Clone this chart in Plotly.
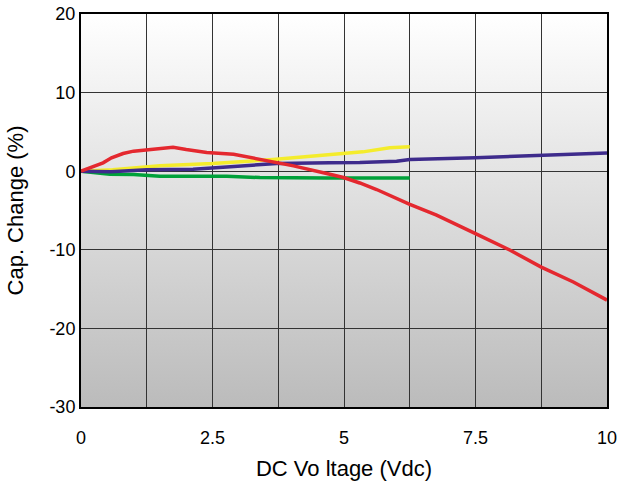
import base64
import plotly.graph_objects as go

# Cap. change vs DC voltage
red_x = [0, 0.23, 0.42, 0.58, 0.8, 1.0, 1.25, 1.5, 1.75, 2.0, 2.39, 2.9, 3.4, 4.04, 4.67,
         4.99, 5.3, 5.62, 6.24, 6.76, 7.5, 8.16, 8.75, 9.36, 10.0]
red_y = [0, 0.55, 1.06, 1.7, 2.25, 2.55, 2.7, 2.8, 3.05, 2.75, 2.38, 2.16, 1.49, 0.68, -0.3,
         -0.8, -1.5, -2.33, -4.2, -5.6, -7.94, -10.06, -12.2, -14.1, -16.4]

yellow_x = [0, 0.6, 1.5, 2.5, 3.65, 4.73, 5.36, 5.87, 6.25]
yellow_y = [0, 0.2, 0.68, 0.97, 1.49, 2.12, 2.46, 2.97, 3.1]

purple_x = [0, 0.57, 1.25, 2.13, 2.77, 3.72, 4.73, 5.3, 6.0, 6.25, 7.5, 8.75, 10.0]
purple_y = [0, -0.08, 0.2, 0.25, 0.55, 0.98, 1.06, 1.1, 1.27, 1.49, 1.7, 2.04, 2.33]

green_x = [0, 0.55, 1.0, 1.5, 2.77, 3.4, 4.67, 6.25]
green_y = [0, -0.38, -0.42, -0.64, -0.64, -0.81, -0.85, -0.85]

x_ticks = [0, 2.5, 5, 7.5, 10]
x_labels = ["0", "2.5", "5", "7.5", "10"]
y_ticks = [-30, -20, -10, 0, 10, 20]
y_labels = ["-30", "-20", "-10", "0", "10", "20"]

series = [
    (green_x, green_y, "#00A13A"),
    (yellow_x, yellow_y, "#F4EC2C"),
    (purple_x, purple_y, "#3E2B8C"),
    (red_x, red_y, "#E4282F"),
]

fig = go.Figure()
for xs, ys, color in series:
    fig.add_trace(go.Scatter(x=xs, y=ys, mode="lines", line=dict(color=color, width=3.5),
                             showlegend=False))

# grey-to-white background gradient behind the grid
svg = ('<svg xmlns="http://www.w3.org/2000/svg" width="10" height="100" preserveAspectRatio="none">'
       '<defs><linearGradient id="g" x1="0" y1="0" x2="0" y2="1">'
       '<stop offset="0" stop-color="#FFFFFF"/><stop offset="1" stop-color="#BBBBBB"/>'
       '</linearGradient></defs><rect width="10" height="100" fill="url(#g)"/></svg>')
src = "data:image/svg+xml;base64," + base64.b64encode(svg.encode()).decode()
fig.add_layout_image(dict(source=src, xref="paper", yref="paper", x=0, y=1, sizex=1, sizey=1,
                          xanchor="left", yanchor="top", sizing="stretch", layer="below"))

font = dict(family="Liberation Sans, Arial, sans-serif", size=18, color="black")
fig.update_layout(
    width=623, height=486,
    margin=dict(l=81, r=16, t=14, b=79),
    paper_bgcolor="white",
    plot_bgcolor="rgba(0,0,0,0)",
    font=font,
    xaxis=dict(
        range=[0, 10], tickvals=x_ticks, ticktext=x_labels,
        showgrid=True, gridcolor="#333333", gridwidth=1,
        minor=dict(dtick=1.25, showgrid=True, gridcolor="#333333", gridwidth=1),
        showline=True, linecolor="black", linewidth=2, mirror=True,
        ticks="", zeroline=False, automargin=False, ticklabeloverflow="allow",
        ticklabelstandoff=13,
        title=dict(text="DC Vo ltage (Vdc)", standoff=14),
    ),
    yaxis=dict(
        range=[-30, 20], tickvals=y_ticks, ticktext=y_labels,
        showgrid=True, gridcolor="#333333", gridwidth=1,
        showline=True, linecolor="black", linewidth=2, mirror=True,
        ticks="", zeroline=False, automargin=False, ticklabeloverflow="allow",
        title=dict(text="Cap. Change (%)", standoff=20),
    ),
)

# drop the default page margin so the figure sits at the window's corner
fig.write_html("out.html", config={"displayModeBar": False},
               post_script="document.body.style.margin='0';")
